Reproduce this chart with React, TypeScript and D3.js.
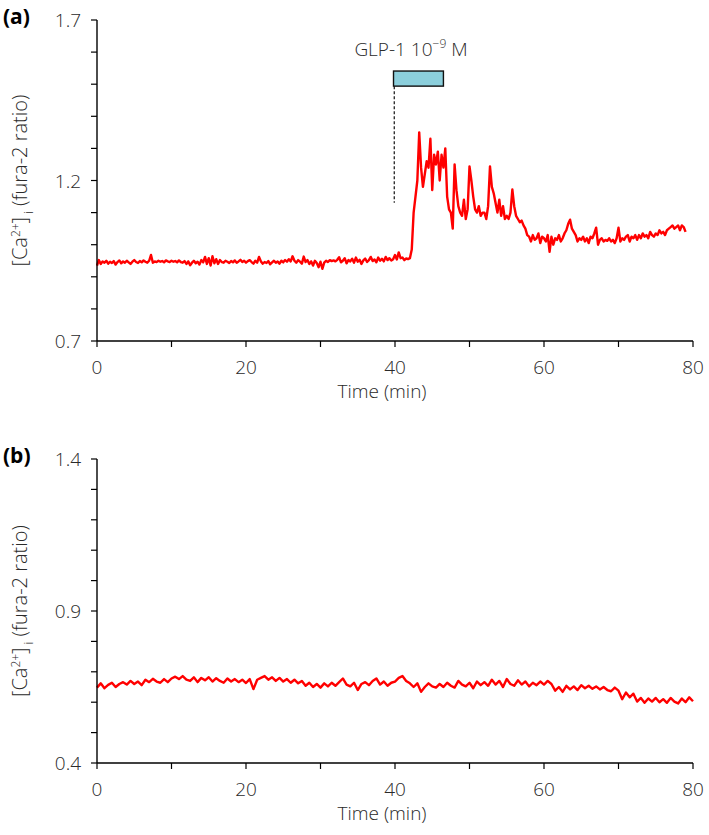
import React from "react";
import * as d3 from "d3";

// Panel (a): sampled every 0.25 min from t = 0
const STEP_A = 0.25;
const valuesA: number[] = [
  0.935, 0.952, 0.940, 0.948, 0.944, 0.950, 0.941, 0.947,
  0.943, 0.949, 0.938, 0.946, 0.951, 0.942, 0.948, 0.944,
  0.950, 0.945, 0.940, 0.947, 0.952, 0.946, 0.943, 0.949,
  0.945, 0.951, 0.947, 0.944, 0.950, 0.968, 0.944, 0.948,
  0.946, 0.950, 0.947, 0.949, 0.945, 0.951, 0.948, 0.946,
  0.950, 0.947, 0.949, 0.945, 0.951, 0.946, 0.944, 0.949,
  0.940, 0.948, 0.936, 0.944, 0.950, 0.942, 0.947, 0.938,
  0.952, 0.945, 0.962, 0.940, 0.958, 0.935, 0.964, 0.942,
  0.955, 0.940, 0.952, 0.946, 0.944, 0.950, 0.947, 0.943,
  0.949, 0.945, 0.951, 0.944, 0.948, 0.953, 0.946, 0.950,
  0.944, 0.949, 0.952, 0.946, 0.941, 0.950, 0.944, 0.962,
  0.948, 0.941, 0.946, 0.943, 0.949, 0.939, 0.945, 0.950,
  0.944, 0.948, 0.941, 0.950, 0.945, 0.952, 0.947, 0.955,
  0.948, 0.964, 0.950, 0.944, 0.952, 0.947, 0.941, 0.963,
  0.946, 0.952, 0.940, 0.948, 0.935, 0.950, 0.943, 0.930,
  0.947, 0.925, 0.944, 0.950, 0.946, 0.952, 0.949, 0.951,
  0.948, 0.953, 0.961, 0.945, 0.950, 0.958, 0.942, 0.952,
  0.948, 0.956, 0.944, 0.960, 0.947, 0.953, 0.940, 0.951,
  0.957, 0.946, 0.952, 0.962, 0.949, 0.954, 0.945, 0.960,
  0.950, 0.956, 0.948, 0.962, 0.952, 0.958, 0.951, 0.955,
  0.968, 0.954, 0.976, 0.958, 0.960, 0.952, 0.957, 0.955,
  0.958, 0.985, 1.100, 1.150, 1.200, 1.350, 1.240, 1.180,
  1.220, 1.260, 1.240, 1.330, 1.170, 1.280, 1.250, 1.290,
  1.200, 1.280, 1.240, 1.300, 1.150, 1.110, 1.100, 1.050,
  1.250, 1.170, 1.120, 1.100, 1.090, 1.140, 1.080, 1.110,
  1.244, 1.200, 1.150, 1.110, 1.100, 1.120, 1.090, 1.100,
  1.100, 1.080, 1.120, 1.244, 1.180, 1.160, 1.130, 1.100,
  1.140, 1.090, 1.120, 1.080, 1.090, 1.080, 1.100, 1.172,
  1.120, 1.090, 1.080, 1.070, 1.075, 1.060, 1.050, 1.030,
  1.025, 1.010, 1.030, 1.015, 1.020, 1.035, 1.005, 1.025,
  1.020, 1.010, 1.030, 0.978, 1.025, 1.000, 1.020, 1.015,
  1.030, 1.010, 1.020, 1.035, 1.045, 1.065, 1.078, 1.050,
  1.040, 1.030, 1.010, 1.020, 1.015, 1.025, 1.010, 1.020,
  1.005, 1.025, 1.020, 1.035, 1.053, 1.000, 1.015, 1.020,
  1.010, 1.015, 1.012, 1.020, 1.010, 1.015, 1.005, 1.020,
  1.053, 1.010, 1.020, 1.015, 1.025, 1.030, 1.010, 1.025,
  1.020, 1.030, 1.015, 1.030, 1.020, 1.035, 1.025, 1.030,
  1.020, 1.040, 1.030, 1.025, 1.035, 1.030, 1.045, 1.035,
  1.040, 1.030, 1.045, 1.050, 1.055, 1.060, 1.050, 1.055,
  1.060, 1.045, 1.060, 1.055, 1.040,
];

// Panel (b): sampled every 0.5 min from t = 0
const STEP_B = 0.5;
const valuesB: number[] = [
  0.648, 0.662, 0.646, 0.657, 0.664, 0.650, 0.660, 0.666,
  0.658, 0.670, 0.660, 0.668, 0.656, 0.674, 0.666, 0.677,
  0.668, 0.664, 0.676, 0.666, 0.678, 0.684, 0.676, 0.686,
  0.674, 0.670, 0.682, 0.666, 0.680, 0.672, 0.682, 0.668,
  0.679, 0.670, 0.664, 0.678, 0.668, 0.676, 0.666, 0.674,
  0.663, 0.676, 0.643, 0.674, 0.680, 0.686, 0.674, 0.682,
  0.670, 0.680, 0.668, 0.676, 0.664, 0.674, 0.662, 0.670,
  0.654, 0.664, 0.650, 0.660, 0.648, 0.662, 0.652, 0.664,
  0.654, 0.666, 0.678, 0.658, 0.652, 0.664, 0.640, 0.660,
  0.666, 0.656, 0.670, 0.678, 0.658, 0.668, 0.654, 0.664,
  0.668, 0.680, 0.686, 0.670, 0.662, 0.650, 0.662, 0.634,
  0.650, 0.662, 0.652, 0.648, 0.660, 0.650, 0.664, 0.654,
  0.648, 0.670, 0.658, 0.652, 0.664, 0.646, 0.668, 0.656,
  0.666, 0.654, 0.674, 0.658, 0.670, 0.650, 0.676, 0.660,
  0.654, 0.672, 0.658, 0.668, 0.652, 0.664, 0.656, 0.668,
  0.658, 0.670, 0.660, 0.638, 0.650, 0.634, 0.654, 0.642,
  0.652, 0.640, 0.656, 0.646, 0.654, 0.644, 0.652, 0.642,
  0.650, 0.640, 0.636, 0.648, 0.638, 0.610, 0.632, 0.616,
  0.628, 0.602, 0.614, 0.598, 0.612, 0.602, 0.614, 0.600,
  0.610, 0.598, 0.614, 0.602, 0.596, 0.612, 0.600, 0.616,
  0.603,
];

const xTicks = [0, 10, 20, 30, 40, 50, 60, 70, 80];
const xTickLabels = [0, 20, 40, 60, 80];
const yLabelsA = [0.7, 1.2, 1.7];
const yLabelsB = [0.4, 0.9, 1.4];
const glpStart = 39.8;
const glpEnd = 46.5;
const glpLineTime = 39.9;
const glpBarTop = 1.541;
const glpBarBottom = 1.494;
const glpLineBottom = 1.131;

const FONT = "'Open Sans', 'Noto Sans', sans-serif";
const FS = 19;
const FW = 300;
const TXT = "#2a2a2a";

type PanelProps = {
  label: string;
  top: number;
  bottom: number;
  domain: [number, number];
  labels: number[];
  values: number[];
  step: number;
  annotate?: boolean;
};

function Panel({ label, top, bottom, domain, labels, values, step, annotate }: PanelProps) {
  const left = 97;
  const right = 693;
  const x = d3.scaleLinear().domain([0, 80]).range([left, right]);
  const y = d3.scaleLinear().domain(domain).range([bottom, top]);
  const minorY = d3.range(Math.round(domain[0] * 10), Math.round(domain[1] * 10) + 1).map((v) => v / 10);
  const line = d3
    .line<number>()
    .x((_, i) => x(i * step))
    .y((d) => y(d));
  const midY = (top + bottom) / 2;
  return (
    <g>
      <text x={3} y={top + 4} fontFamily={FONT} fontWeight={700} fontSize={21} fill="#000">
        {label}
      </text>
      <path d={line(values) || ""} fill="none" stroke="#ff0000" strokeWidth={2.4} strokeLinejoin="round" />
      <line x1={left} x2={left} y1={top} y2={bottom} stroke="#000" strokeWidth={1.4} />
      <line x1={left} x2={right} y1={bottom} y2={bottom} stroke="#000" strokeWidth={1.4} />
      {minorY.map((v) => (
        <line key={"yt" + v} x1={left - 6} x2={left} y1={y(v)} y2={y(v)} stroke="#000" strokeWidth={1.2} />
      ))}
      {xTicks.map((t) => (
        <line key={"xt" + t} x1={x(t)} x2={x(t)} y1={bottom} y2={bottom + 6} stroke="#000" strokeWidth={1.2} />
      ))}
      {labels.map((v) => (
        <text key={"yl" + v} x={81} y={y(v) + 7} textAnchor="end" fontFamily={FONT} fontWeight={FW} fontSize={FS} fill={TXT}>
          {v.toFixed(1)}
        </text>
      ))}
      {xTickLabels.map((t) => (
        <text key={"xl" + t} x={x(t)} y={bottom + 33} textAnchor="middle" fontFamily={FONT} fontWeight={FW} fontSize={FS} fill={TXT}>
          {t}
        </text>
      ))}
      <text x={382} y={bottom + 57} textAnchor="middle" fontFamily={FONT} fontWeight={FW} fontSize={FS} fill={TXT}>
        Time (min)
      </text>
      <text
        transform={`translate(27, ${midY}) rotate(-90)`}
        textAnchor="middle"
        fontFamily={FONT}
        fontWeight={FW}
        fontSize={20}
        fill={TXT}
      >
        [Ca<tspan dy={-7} fontSize={12}>2+</tspan>
        <tspan dy={7}>]</tspan>
        <tspan dy={6} fontSize={12}> i</tspan>
        <tspan dy={-6}> (fura-2 ratio)</tspan>
      </text>
      {annotate && (
        <g>
          <text x={411} y={56} textAnchor="middle" fontFamily={FONT} fontWeight={FW} fontSize={FS} fill={TXT}>
            GLP-1 10<tspan dy={-8} fontSize={12}>−9</tspan>
            <tspan dy={8}> M</tspan>
          </text>
          <rect
            x={x(glpStart)}
            y={y(glpBarTop)}
            width={x(glpEnd) - x(glpStart)}
            height={y(glpBarBottom) - y(glpBarTop)}
            fill="#8ccfdc"
            stroke="#111"
            strokeWidth={1.4}
          />
          <line
            x1={x(glpLineTime)}
            x2={x(glpLineTime)}
            y1={y(glpBarBottom)}
            y2={y(glpLineBottom)}
            stroke="#111"
            strokeWidth={1.2}
            strokeDasharray="3,2"
          />
        </g>
      )}
    </g>
  );
}

export default function App() {
  return (
    <svg width={709} height={835} style={{ position: "absolute", left: 0, top: 0 }}>
      <rect width={709} height={835} fill="#fff" />
      <Panel label="(a)" top={20} bottom={341} domain={[0.7, 1.7]} labels={yLabelsA} values={valuesA} step={STEP_A} annotate />
      <Panel label="(b)" top={459} bottom={763} domain={[0.4, 1.4]} labels={yLabelsB} values={valuesB} step={STEP_B} />
    </svg>
  );
}
